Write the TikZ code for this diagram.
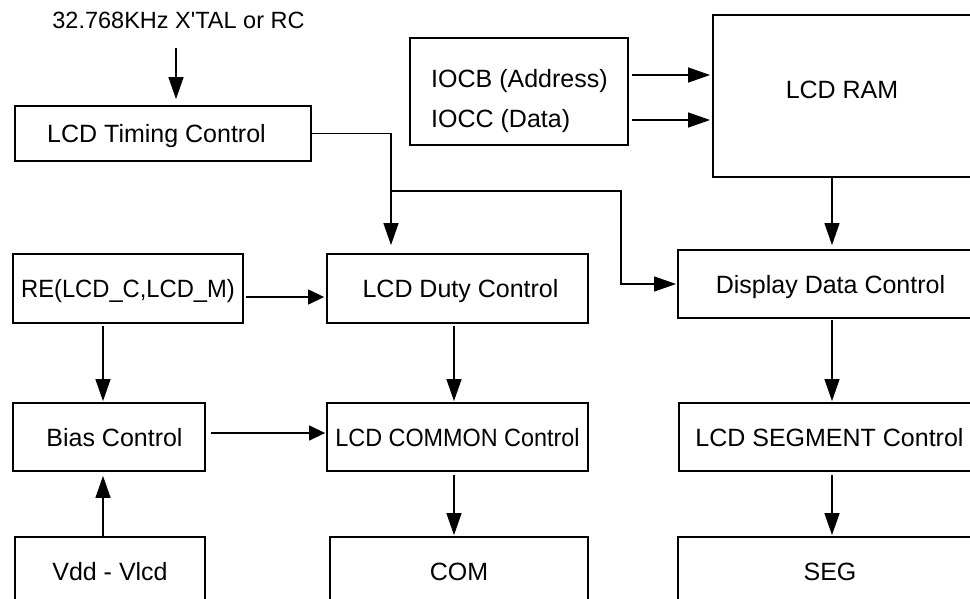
\documentclass[tikz,border=0pt]{standalone}
\usepackage{fontspec}
\setmainfont{Liberation Sans}[Ligatures=TeXOff]
\usetikzlibrary{arrows.meta}
\begin{document}
\begin{tikzpicture}[x=1pt,y=-1pt,
  box/.style={draw, line width=1.8pt, inner sep=0pt, text height=18pt, text depth=0pt,
    font=\fontsize{25}{30}\selectfont},
  txt/.style={inner sep=0pt, text height=18pt, text depth=0pt, font=\fontsize{25}{30}\selectfont},
  conn/.style={line width=1.3pt, -{Triangle[length=22pt,width=15pt]}},
  sconn/.style={line width=1.3pt, -{Triangle[length=16pt,width=15pt]}},
  wire/.style={line width=1.3pt}]
\useasboundingbox (0,0) rectangle (970,598);
\fill[white] (0,0) rectangle (970,598);
\clip (0,0) rectangle (970,598);

% label
\node[txt, font=\fontsize{23.5}{28}\selectfont] (xtal) at (178.5,19) {32.768KHz X'TAL or RC};

% boxes
\node[box, minimum width=296pt, minimum height=55pt] (timing) at (163,133.5) {\hspace*{-13pt}LCD Timing Control};
\node[box, minimum width=218pt, minimum height=107pt] (iocb) at (519,91.5) {};
\node[txt, anchor=west] (l1) at (431,78) {IOCB (Address)};
\node[txt, anchor=west] (l2) at (431,118) {IOCC (Data)};
\node[box, minimum width=287pt, minimum height=162pt] (ram) at (856.5,96) {};
\node[txt] (ramtxt) at (842,89) {LCD RAM};

\node[box, minimum width=230pt, minimum height=69pt] (re) at (128,288.5) {\scalebox{0.95}[1]{RE(LCD\_C,LCD\_M)}};
\node[box, minimum width=261pt, minimum height=69pt] (duty) at (457.5,288.5) {\hspace*{6pt}LCD Duty Control};
\node[box, minimum width=322pt, minimum height=68pt] (display) at (839,284) {\hspace*{-17pt}Display Data Control};

\node[box, minimum width=192pt, minimum height=68pt] (bias) at (109,437) {\hspace*{11pt}Bias Control};
\node[box, minimum width=261pt, minimum height=68pt] (common) at (457.5,437) {\scalebox{0.935}[1]{LCD COMMON Control}};
\node[box, minimum width=321pt, minimum height=68pt] (segment) at (839.5,437) {\hspace*{-20pt}LCD SEGMENT Control};

\node[box, minimum width=190pt, minimum height=68pt] (vdd) at (110,571) {Vdd - Vlcd};
\node[box, minimum width=258pt, minimum height=68pt] (com) at (459,571) {COM};
\node[box, minimum width=322pt, minimum height=68pt] (seg) at (839,571) {\hspace*{-18pt}SEG};

% connectors
\draw[conn, shorten <=20pt, shorten >=6pt] ([xshift=-2.5pt]xtal.south) -- ([xshift=-2.5pt]xtal.south |- timing.north);
\coordinate (j) at (391,191);
\coordinate (k) at (621,191);
\draw[conn, shorten >=8pt] (timing.east) -| (j |- duty.north);
\draw[conn, shorten >=1pt] (j) -- (k) |- (display.west);
\draw[conn, shorten <=3pt, shorten >=2pt] ([yshift=3pt]iocb.east |- l1) -- ([yshift=3pt]ram.west |- l1);
\draw[conn, shorten <=3pt, shorten >=2pt] ([yshift=-2pt]iocb.east |- l2) -- ([yshift=-2pt]ram.west |- l2);
\draw[conn, shorten >=4pt] ([xshift=-7pt]display.north |- ram.south) -- ([xshift=-7pt]display.north);
\draw[sconn, shorten <=2pt, shorten >=2pt] ([yshift=-8.5pt]re.east) -- ([yshift=-8.5pt]re.east -| duty.west);
\draw[conn, shorten <=2pt, shorten >=1pt] ([xshift=-6pt]bias.north |- re.south) -- ([xshift=-6pt]bias.north);
\draw[conn, shorten <=2pt, shorten >=1pt] ([xshift=-3.5pt]common.north |- duty.south) -- ([xshift=-3.5pt]common.north);
\draw[conn, shorten <=1pt, shorten >=1pt] ([xshift=-7.5pt]segment.north |- display.south) -- ([xshift=-7.5pt]segment.north);
\draw[sconn, shorten <=5pt, shorten >=1pt] ([yshift=4pt]bias.east) -- ([yshift=4pt]bias.east -| common.west);
\draw[conn, shorten >=4pt] ([xshift=-7pt]vdd.north) -- ([xshift=-7pt]vdd.north |- bias.south);
\draw[conn, shorten <=3pt, shorten >=1pt] ([xshift=-3.5pt]common.south) -- ([xshift=-3.5pt]common.south |- com.north);
\draw[conn, shorten <=3pt, shorten >=1pt] ([xshift=-7pt]seg.north |- segment.south) -- ([xshift=-7pt]seg.north);
\end{tikzpicture}
\end{document}
